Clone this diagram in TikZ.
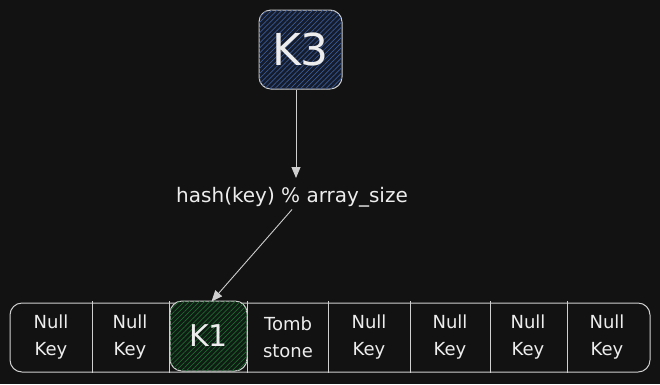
\documentclass[tikz,border=0pt]{standalone}
\usepackage{fontspec}
\setmainfont{DejaVu Sans}
\usetikzlibrary{arrows.meta,patterns.meta}
\definecolor{bg}{HTML}{121212}
\definecolor{ink}{HTML}{EDEDED}
\definecolor{edge}{HTML}{CFCFCF}
\definecolor{navy}{HTML}{151C2C}
\definecolor{hatchblue}{HTML}{3A5A98}
\definecolor{darkgreen}{HTML}{0F1C13}
\definecolor{hatchgreen}{HTML}{1E6A30}
\tikzset{
  keybox/.style={draw=edge, line width=1pt, rounded corners=12pt, text=ink},
  cell/.style={text=ink, align=center, font=\fontsize{18}{27}\selectfont},
  link/.style={draw=edge, line width=0.9pt, -{Triangle[width=9pt,length=11pt]}},
}
\begin{document}
\begin{tikzpicture}[x=1pt, y=-1pt]
  % background
  \fill[bg] (0,0) rectangle (660,384);
  \useasboundingbox (0,0) rectangle (660,384);

  % key to insert
  \node[keybox, minimum width=83pt, minimum height=79pt, fill=navy,
        postaction={pattern={Lines[angle=45,distance=3.6pt,line width=0.7pt]}, pattern color=hatchblue},
        font=\fontsize{44}{46}\selectfont] (k3) at (300.5,49.5) {K3};

  % hash function
  \node[text=ink, font=\fontsize{20}{22}\selectfont] (hash) at (292,197) {hash(key) \% array\_size};
  \coordinate (tip) at (296,178);

  % array of slots
  \draw[draw=edge, line width=1pt, rounded corners=12pt] (10,303) rectangle (650,372);
  \foreach \x in {92,169,247,328,410,490,567}
    \draw[edge, line width=0.9pt] (\x,301) -- (\x,373);

  % occupied slot
  \node[keybox, minimum width=77pt, minimum height=70pt, fill=darkgreen,
        postaction={pattern={Lines[angle=45,distance=3.6pt,line width=0.7pt]}, pattern color=hatchgreen},
        font=\fontsize{30}{32}\selectfont] (k1) at (208.5,336) {K1};

  \node[cell] (s0) at (51,337) {Null\\Key};
  \node[cell] (s1) at (130,337) {Null\\Key};
  \node[cell] (s3) at (288,337) {Tomb\\stone};
  \node[cell] (s4) at (369,337) {Null\\Key};
  \node[cell] (s5) at (450,337) {Null\\Key};
  \node[cell] (s6) at (528,337) {Null\\Key};
  \node[cell] (s7) at (607,337) {Null\\Key};

  % arrows
  \draw[link] ([xshift=-4.5pt]k3.south) -- (tip);
  \draw[link] ([yshift=1pt]hash.south) -- ([xshift=42pt,yshift=-1pt]k1.north west);
\end{tikzpicture}
\end{document}
